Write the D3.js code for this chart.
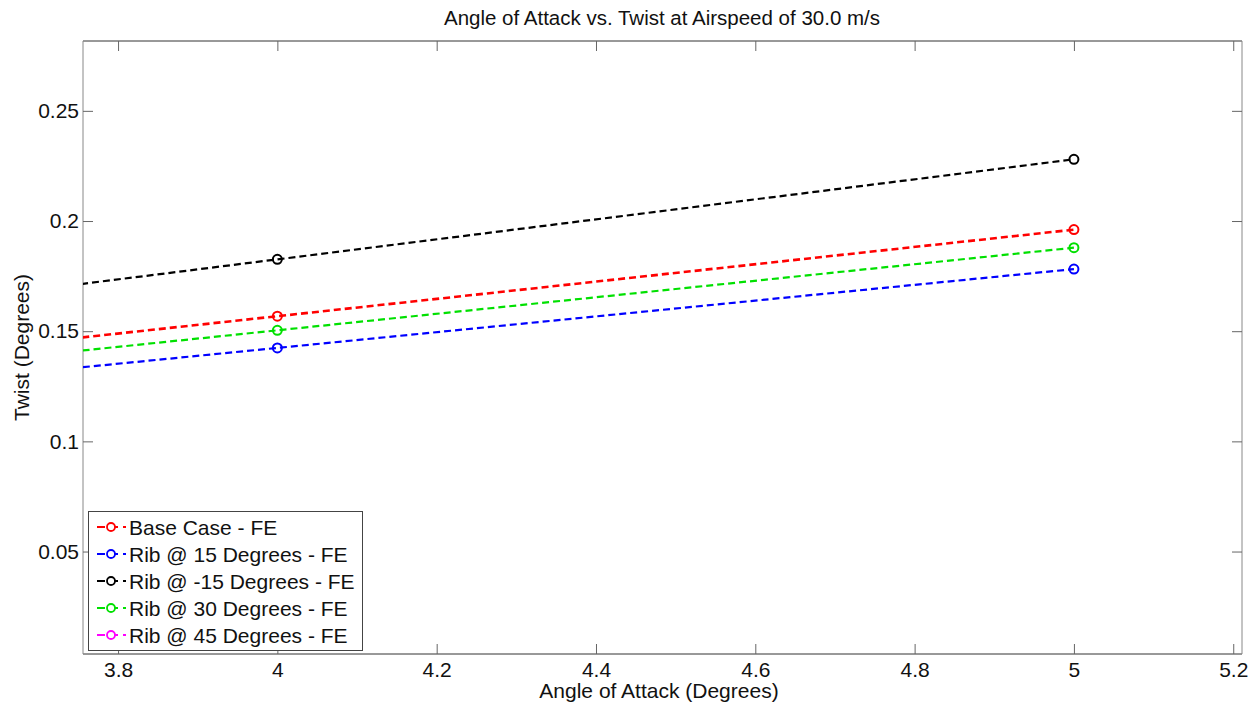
<!DOCTYPE html>
<html>
<head>
<meta charset="utf-8">
<script src="https://cdn.jsdelivr.net/npm/d3@7"></script>
<style>
  body { margin: 0; background: #fff; }
  svg { font-family: Arial, "Liberation Sans", sans-serif; }
  text { fill: #111; }
</style>
</head>
<body>
<svg width="1257" height="707"></svg>
<script>
// angle of attack values (x) and the twist for every case
var aoa = [3, 4, 5];
var baseCase = [0.1175, 0.1568, 0.1961];
var rib15 = [0.1066, 0.1424, 0.1782];
var ribNeg15 = [0.1372, 0.1826, 0.2280];
var rib30 = [0.1129, 0.1504, 0.1879];
var rib45 = []; // listed in the legend, nothing drawn

var seriesNames = ["Base Case - FE", "Rib @ 15 Degrees - FE", "Rib @ -15 Degrees - FE", "Rib @ 30 Degrees - FE", "Rib @ 45 Degrees - FE"];
var seriesValues = [baseCase, rib15, ribNeg15, rib30, rib45];
var seriesColors = ["#ff0000", "#0000ff", "#000000", "#00e000", "#ff00ff"];

var xTicks = [3.8, 4, 4.2, 4.4, 4.6, 4.8, 5, 5.2];
var yTicks = [0.05, 0.1, 0.15, 0.2, 0.25];

var svg = d3.select("svg"),
    pLeft = 83, pRight = 1242, pTop = 41, pBottom = 654,
    fontSize = 21;

var x = d3.scaleLinear().domain([3.756, 5.211]).range([pLeft, pRight]);
var y = d3.scaleLinear().domain([0.0035, 0.2817]).range([pBottom, pTop]);

svg.append("rect").attr("width", 1257).attr("height", 707).attr("fill", "#fff");

svg.append("clipPath").attr("id", "plotArea")
  .append("rect")
    .attr("x", pLeft).attr("y", pTop)
    .attr("width", pRight - pLeft).attr("height", pBottom - pTop);

// box + inside ticks
var axes = svg.append("g");
axes.append("line").attr("x1", pLeft).attr("x2", pRight).attr("y1", pTop).attr("y2", pTop).attr("stroke", "#333");
axes.append("line").attr("x1", pLeft).attr("x2", pRight).attr("y1", pBottom).attr("y2", pBottom).attr("stroke", "#333");
axes.append("line").attr("x1", pLeft).attr("x2", pLeft).attr("y1", pTop).attr("y2", pBottom).attr("stroke", "#888");
axes.append("line").attr("x1", pRight).attr("x2", pRight).attr("y1", pTop).attr("y2", pBottom).attr("stroke", "#888");

axes.append("g")
    .attr("transform", "translate(0," + pBottom + ")")
    .call(d3.axisBottom(x).tickValues(xTicks).tickSize(-10).tickPadding(8).tickFormat(d3.format("")))
    .call(function(g) { g.select(".domain").remove(); });
axes.append("g")
    .attr("transform", "translate(0," + pTop + ")")
    .call(d3.axisTop(x).tickValues(xTicks).tickSize(-10).tickFormat(""))
    .call(function(g) { g.select(".domain").remove(); });
axes.append("g")
    .attr("transform", "translate(" + pLeft + ",0)")
    .call(d3.axisLeft(y).tickValues(yTicks).tickSize(-10).tickPadding(4).tickFormat(d3.format("")))
    .call(function(g) { g.select(".domain").remove(); });
axes.append("g")
    .attr("transform", "translate(" + pRight + ",0)")
    .call(d3.axisRight(y).tickValues(yTicks).tickSize(-10).tickFormat(""))
    .call(function(g) { g.select(".domain").remove(); });

axes.selectAll(".tick line").attr("stroke", "#666");
axes.selectAll(".tick text")
    .attr("font-family", "Arial, 'Liberation Sans', sans-serif")
    .attr("font-size", fontSize)
    .attr("fill", "#111");

// the lines
var line = d3.line()
    .x(function(d) { return x(d.x); })
    .y(function(d) { return y(d.y); });

var plot = svg.append("g").attr("clip-path", "url(#plotArea)");
seriesValues.forEach(function(vals, i) {
    var pts = vals.map(function(v, j) { return {x: aoa[j], y: v}; });
    if (pts.length === 0) return;
    plot.append("path")
        .attr("d", line(pts))
        .attr("fill", "none")
        .attr("stroke", seriesColors[i])
        .attr("stroke-width", i === 0 ? 2.6 : 2.2)
        .attr("stroke-dasharray", "7,4");
    plot.selectAll(null)
        .data(pts)
        .enter().append("circle")
        .attr("cx", function(d) { return x(d.x); })
        .attr("cy", function(d) { return y(d.y); })
        .attr("r", 4.5)
        .attr("fill", "none")
        .attr("stroke", seriesColors[i])
        .attr("stroke-width", 2);
});

// titles
svg.append("text")
    .attr("x", 662).attr("y", 25)
    .attr("text-anchor", "middle")
    .attr("font-size", 20.5)
    .text("Angle of Attack vs. Twist at Airspeed of 30.0 m/s");
svg.append("text")
    .attr("x", 659).attr("y", 698)
    .attr("text-anchor", "middle")
    .attr("font-size", fontSize)
    .text("Angle of Attack (Degrees)");
svg.append("text")
    .attr("transform", "translate(29," + ((pTop + pBottom) / 2) + ") rotate(-90)")
    .attr("text-anchor", "middle")
    .attr("font-size", fontSize)
    .text("Twist (Degrees)");

// legend
var legend = svg.append("g");
legend.append("rect")
    .attr("x", 88.5).attr("y", 511.5)
    .attr("width", 274).attr("height", 139)
    .attr("fill", "#fff")
    .attr("stroke", "#444");
seriesNames.forEach(function(name, i) {
    var ly = 527 + i * 27;
    legend.append("line")
        .attr("x1", 97).attr("x2", 126).attr("y1", ly).attr("y2", ly)
        .attr("stroke", seriesColors[i])
        .attr("stroke-width", 2)
        .attr("stroke-dasharray", "8,5");
    legend.append("circle")
        .attr("cx", 111).attr("cy", ly).attr("r", 4)
        .attr("fill", "#fff")
        .attr("stroke", seriesColors[i])
        .attr("stroke-width", 1.8);
    legend.append("text")
        .attr("x", 129).attr("y", ly + 7.5)
        .attr("font-size", fontSize)
        .text(name);
});
</script>
</body>
</html>
